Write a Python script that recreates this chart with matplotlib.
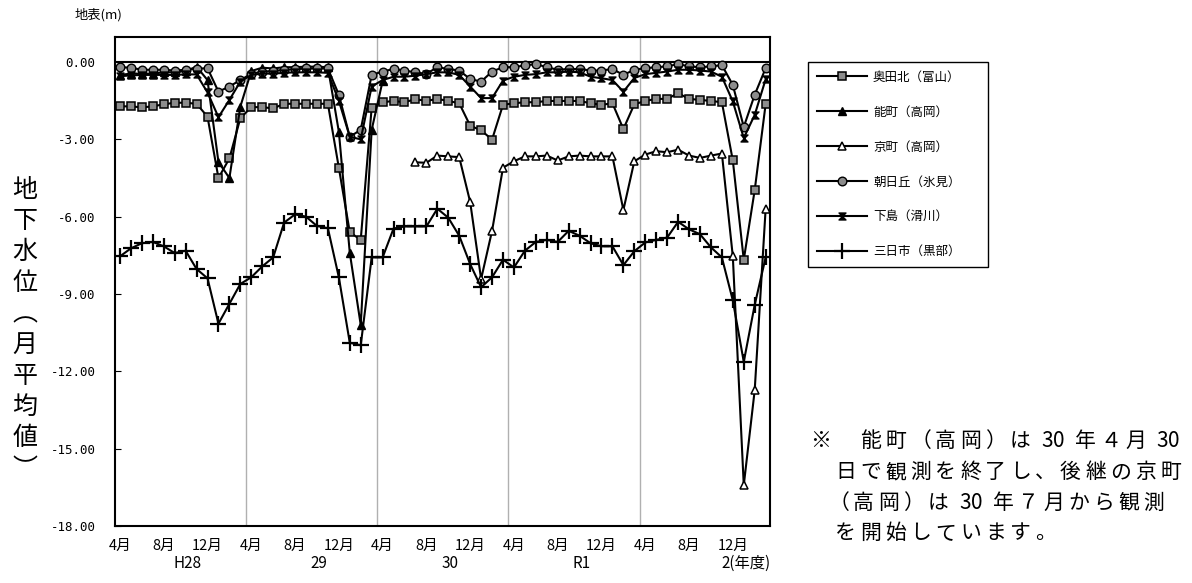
import numpy as np
import matplotlib
matplotlib.use("Agg")
import matplotlib.pyplot as plt
from matplotlib.path import Path
from matplotlib import transforms

plt.rcParams["font.family"] = ["Noto Sans CJK JP", "DejaVu Sans"]

# =========================
# DATA (monthly mean groundwater level, m below surface)
# =========================

months = ["4月", "5月", "6月", "7月", "8月", "9月", "10月", "11月", "12月", "1月", "2月", "3月"] * 5
fiscal_years = ["H28", "29", "30", "R1", "2(年度)"]
nan = np.nan

okudakita = [
    -1.72, -1.72, -1.76, -1.72, -1.64, -1.58, -1.58, -1.62, -2.12, -4.50, -3.74, -2.18,
    -1.75, -1.75, -1.80, -1.62, -1.62, -1.62, -1.62, -1.62, -4.10, -6.60, -6.90, -1.77,
    -1.56, -1.51, -1.56, -1.44, -1.51, -1.43, -1.51, -1.60, -2.47, -2.65, -3.01, -1.66,
    -1.60, -1.56, -1.56, -1.51, -1.51, -1.51, -1.51, -1.60, -1.66, -1.60, -2.60, -1.64,
    -1.51, -1.43, -1.43, -1.21, -1.43, -1.47, -1.51, -1.56, -3.82, -7.67, -4.97, -1.63,
]
nomachi = [
    -0.50, -0.45, -0.45, -0.45, -0.40, -0.40, -0.35, -0.18, -0.70, -3.88, -4.50, -1.73,
    -0.35, -0.22, -0.25, -0.20, -0.20, -0.18, -0.18, -0.20, -2.70, -7.40, -10.20, -2.63,
    -0.74, nan, nan, nan, nan, nan, nan, nan, nan, nan, nan, nan,
    nan, nan, nan, nan, nan, nan, nan, nan, nan, nan, nan, nan,
    nan, nan, nan, nan, nan, nan, nan, nan, nan, nan, nan, nan,
]
kyomachi = [
    nan, nan, nan, nan, nan, nan, nan, nan, nan, nan, nan, nan,
    nan, nan, nan, nan, nan, nan, nan, nan, nan, nan, nan, nan,
    nan, nan, nan, -3.89, -3.91, -3.63, -3.66, -3.69, -5.43, -8.42, -6.55, -4.10,
    -3.85, -3.66, -3.66, -3.63, -3.82, -3.66, -3.63, -3.66, -3.66, -3.66, -5.74, -3.85,
    -3.59, -3.46, -3.50, -3.40, -3.63, -3.72, -3.63, -3.55, -7.54, -16.42, -12.73, -5.69,
]
asahigaoka = [
    -0.20, -0.22, -0.30, -0.30, -0.30, -0.33, -0.30, -0.26, -0.24, -1.15, -0.95, -0.70,
    -0.46, -0.37, -0.35, -0.30, -0.28, -0.25, -0.25, -0.25, -1.27, -2.90, -2.63, -0.50,
    -0.37, -0.27, -0.33, -0.40, -0.46, -0.20, -0.27, -0.33, -0.66, -0.76, -0.37, -0.20,
    -0.20, -0.13, -0.08, -0.20, -0.30, -0.27, -0.27, -0.33, -0.33, -0.27, -0.50, -0.30,
    -0.24, -0.20, -0.17, -0.08, -0.17, -0.20, -0.17, -0.12, -0.89, -2.52, -1.27, -0.24,
]
shimojima = [
    -0.55, -0.52, -0.50, -0.50, -0.50, -0.50, -0.48, -0.48, -1.18, -2.14, -1.47, -0.76,
    -0.50, -0.45, -0.45, -0.42, -0.40, -0.40, -0.40, -0.42, -1.50, -2.90, -3.00, -0.95,
    -0.70, -0.57, -0.57, -0.53, -0.47, -0.40, -0.40, -0.50, -0.95, -1.40, -1.40, -0.72,
    -0.57, -0.50, -0.47, -0.40, -0.40, -0.37, -0.40, -0.57, -0.63, -0.70, -1.15, -0.62,
    -0.47, -0.42, -0.37, -0.30, -0.30, -0.33, -0.37, -0.57, -1.53, -2.95, -2.05, -0.67,
]
mikkaichi = [
    -7.54, -7.23, -7.03, -6.98, -7.15, -7.41, -7.32, -8.03, -8.39, -10.15, -9.38, -8.61,
    -8.35, -7.93, -7.58, -6.23, -5.91, -6.00, -6.36, -6.45, -8.35, -10.89, -10.99, -7.58,
    -7.58, -6.46, -6.38, -6.38, -6.38, -5.69, -6.04, -6.74, -7.84, -8.74, -8.35, -7.67,
    -7.97, -7.32, -6.98, -6.90, -6.98, -6.55, -6.74, -7.03, -7.15, -7.15, -7.88, -7.34,
    -7.00, -6.90, -6.81, -6.20, -6.49, -6.68, -7.19, -7.58, -9.25, -11.63, -9.42, -7.58,
]

labels = ["奥田北（富山）", "能町（高岡）", "京町（高岡）", "朝日丘（氷見）", "下島（滑川）", "三日市（黒部）"]

note_lines = [
    "※　能町（高岡）は 30 年４月 30",
    "日で観測を終了し、後継の京町",
    "（高岡）は 30 年７月から観測",
    "を開始しています。",
]

# hourglass marker for 下島
hourglass = Path([(-1, 1), (1, 1), (-1, -1), (1, -1), (-1, 1)],
                 [Path.MOVETO, Path.LINETO, Path.LINETO, Path.LINETO, Path.CLOSEPOLY])

# =========================
# FIGURE
# =========================

W, H = 1192, 583
fig = plt.figure(figsize=(W / 100, H / 100), dpi=100)
ax = fig.add_axes([0.0965, 0.0978, 0.5495, 0.8387])

x = np.arange(len(months))
styles = [
    dict(marker="s", markerfacecolor="#8c8c8c", markersize=6.2, markeredgewidth=1.1),
    dict(marker="^", markerfacecolor="black", markersize=6.2, markeredgewidth=1.0),
    dict(marker="^", markerfacecolor="white", markersize=6.2, markeredgewidth=1.1),
    dict(marker="o", markerfacecolor="#8c8c8c", markersize=6.2, markeredgewidth=1.0),
    dict(marker=hourglass, markerfacecolor="black", markersize=5, markeredgewidth=1.0),
    dict(marker="+", markersize=11, markeredgewidth=1.6),
]
series = [okudakita, nomachi, kyomachi, asahigaoka, shimojima, mikkaichi]

for vals, lab, st in zip(series, labels, styles):
    ax.plot(x, vals, color="black", linewidth=1.5, markeredgecolor="black", label=lab, **st)

ax.axhline(0, color="black", linewidth=1.5, zorder=1)
for b in [11.5, 23.5, 35.5, 47.5]:
    ax.axvline(b, color="#b0b0b0", linewidth=1.0, zorder=0)

ax.set_xlim(-0.45, 59.4)
ax.set_ylim(-18, 0.97)
yt = np.arange(-18, 0.1, 3)
ax.set_yticks(yt)
ax.set_yticklabels([f"{v:.2f}" for v in yt], fontsize=9, family="DejaVu Sans Mono")
ax.tick_params(axis="y", direction="in", length=4, pad=14)

tick_idx = [i for i in x if i % 12 in (0, 4, 8)]
ax.set_xticks(tick_idx)
ax.set_xticklabels([months[i] for i in tick_idx], fontsize=10.5)
ax.tick_params(axis="x", length=0, pad=9)

for sp in ax.spines.values():
    sp.set_linewidth(1.5)

# fiscal year labels under month ticks
trans = transforms.blended_transform_factory(ax.transData, ax.transAxes)
for k, fy in enumerate(fiscal_years[:-1]):
    ax.text(6.2 + 12 * k, -0.076, fy, transform=trans, ha="center", va="center", fontsize=11)
ax.text(55.0, -0.076, fiscal_years[-1], transform=trans, ha="left", va="center", fontsize=11)

# axis titles
fig.text(75 / W, 1 - 15 / H, "地表(m)", fontsize=9.5, ha="left", va="center")
ylab = "地下水位︵月平均値︶"
for j, ch in enumerate(ylab):
    fig.text(25 / W, 1 - (190 + j * 31) / H, ch, fontsize=18, ha="center", va="center")

# legend
leg = fig.legend(loc="upper left", bbox_to_anchor=(808 / W, 0.4, 180 / W, 1 - 62 / H - 0.4),
                 mode="expand", fontsize=9,
                 frameon=True, fancybox=False, edgecolor="black", framealpha=1,
                 labelspacing=1.75, handlelength=4.0, handletextpad=0.5,
                 borderpad=0.7, numpoints=1, borderaxespad=0)
leg.get_frame().set_linewidth(1.0)

# note text, laid out on a fixed pitch like the original
starts = [(808, 441), (833, 472), (826, 503), (833, 533)]
full_w, digit_w, space_w = 25.0, 11.0, 9.0
for (px, py), line in zip(starts, note_lines):
    cx = px
    for ch in line:
        if ch == " ":
            cx += space_w
            continue
        adv = digit_w if ord(ch) < 128 else full_w
        fig.text((cx + adv / 2) / W, 1 - py / H, ch, fontsize=15, ha="center", va="center")
        cx += adv

fig.savefig("out.png", dpi=100)
